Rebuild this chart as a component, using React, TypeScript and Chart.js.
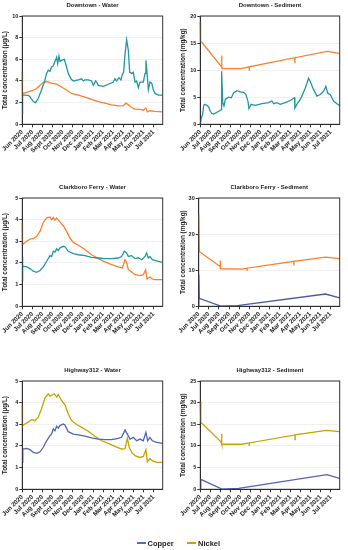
import React, { useEffect, useRef } from 'react';
import { Chart, registerables } from 'chart.js';
Chart.register(...registerables);

const FONT = '"Liberation Sans", Arial, sans-serif';

const MONTH_LABELS = ['Jun 2020', 'Jul 2020', 'Aug 2020', 'Sept 2020', 'Oct 2020', 'Nov 2020', 'Dec 2020', 'Jan 2021', 'Feb 2021', 'Mar 2021', 'Apr 2021', 'May 2021', 'Jun 2021', 'Jul 2021'];
const X_MAX = 13.9;

// Downtown - Water
const DTW_CU_X = [0, 0.03, 0.26, 0.59, 0.76, 0.86, 1.09, 1.32, 1.58, 1.91, 2.18, 2.41, 2.57, 2.74, 2.90, 3.07, 3.23, 3.40, 3.50, 3.63, 3.73, 3.89, 4.16, 4.32, 4.55, 4.82, 5.05, 5.54, 5.87, 6.04, 6.20, 6.53, 6.86, 7.03, 7.26, 7.36, 7.52, 8.02, 8.51, 9.01, 9.17, 9.34, 9.57, 9.77, 9.90, 10.03, 10.17, 10.33, 10.50, 10.63, 10.83, 10.99, 11.16, 11.32, 11.49, 11.65, 11.98, 12.15, 12.24, 12.38, 12.48, 12.64, 12.81, 12.97, 13.14, 13.47, 13.89];
const DTW_CU_Y = [1.0, 2.7, 2.7, 2.67, 2.55, 2.4, 2.1, 2.0, 2.4, 3.2, 3.9, 4.7, 5.0, 4.9, 5.3, 5.4, 5.8, 6.2, 5.6, 6.3, 5.8, 5.9, 6.0, 5.5, 4.7, 4.2, 4.0, 4.1, 4.2, 4.0, 4.1, 4.1, 4.0, 3.6, 4.0, 3.9, 3.6, 3.5, 3.7, 3.9, 4.2, 4.0, 4.3, 4.1, 4.6, 4.8, 6.5, 7.8, 6.8, 4.8, 4.7, 4.8, 3.9, 4.0, 3.4, 3.9, 3.9, 4.7, 5.9, 4.4, 3.2, 3.9, 3.8, 3.2, 2.85, 2.7, 2.7];
const DTW_NI_X = [0, 0.02, 0.1, 0.59, 1.09, 1.42, 1.75, 2.08, 2.41, 2.90, 3.40, 3.89, 4.39, 4.88, 5.54, 6.20, 6.86, 7.52, 8.18, 8.84, 9.50, 10.0, 10.26, 10.50, 10.83, 11.16, 11.65, 11.98, 12.24, 12.38, 12.64, 13.14, 13.89];
const DTW_NI_Y = [4.9, 2.8, 2.85, 3.0, 3.15, 3.3, 3.6, 3.85, 3.95, 3.8, 3.7, 3.45, 3.15, 2.85, 2.7, 2.5, 2.3, 2.1, 1.95, 1.8, 1.7, 1.72, 1.95, 1.8, 1.55, 1.4, 1.38, 1.3, 1.5, 1.15, 1.25, 1.2, 1.15];

// Downtown - Sediment
const DTS_CU_X = [0, 0.1, 0.23, 0.33, 0.43, 0.66, 0.83, 1.0, 1.16, 1.33, 1.56, 1.83, 2.09, 2.13, 2.23, 2.36, 2.49, 2.82, 3.09, 3.32, 3.65, 3.99, 4.32, 4.55, 4.75, 4.85, 5.08, 5.48, 6.15, 6.81, 7.14, 7.31, 7.64, 7.97, 8.47, 8.97, 9.40, 9.43, 9.73, 9.87, 10.13, 10.47, 10.80, 10.96, 11.30, 11.63, 11.96, 12.29, 12.52, 12.72, 12.96, 13.29, 13.62, 13.89];
const DTS_CU_Y = [0, 1.2, 1.8, 3.4, 3.7, 3.5, 3.2, 2.4, 2.0, 1.9, 2.1, 2.4, 2.7, 9.8, 4.0, 3.4, 4.6, 5.0, 4.9, 5.8, 6.2, 6.0, 5.9, 5.5, 4.3, 2.9, 3.7, 3.5, 3.8, 4.0, 4.3, 3.8, 4.0, 3.7, 4.0, 4.4, 4.9, 3.0, 4.0, 4.3, 5.2, 6.7, 8.5, 7.9, 6.4, 5.2, 5.5, 6.1, 7.0, 5.7, 5.5, 4.3, 3.8, 3.5];
const DTS_NI_X = [0, 0.03, 0.17, 2.12, 2.13, 2.15, 2.26, 4.05, 4.86, 4.87, 4.89, 9.42, 9.43, 9.45, 12.62, 13.89];
const DTS_NI_Y = [19.0, 15.3, 15.1, 10.6, 12.7, 10.5, 10.3, 10.3, 10.6, 9.9, 10.6, 12.3, 11.3, 12.3, 13.45, 13.1];

// Clarkboro Ferry - Water
const CFW_CU_X = [0, 0.02, 0.05, 0.43, 0.76, 1.09, 1.42, 1.75, 2.08, 2.41, 2.74, 2.9, 3.07, 3.23, 3.40, 3.56, 3.73, 4.06, 4.22, 4.55, 5.05, 5.54, 6.20, 6.86, 7.52, 8.18, 8.84, 9.50, 9.83, 10.10, 10.33, 10.50, 10.83, 11.16, 11.49, 11.82, 12.15, 12.31, 12.48, 12.64, 12.87, 13.30, 13.89];
const CFW_CU_Y = [1.2, 2.3, 1.85, 1.82, 1.74, 1.62, 1.57, 1.65, 1.82, 2.08, 2.34, 2.3, 2.54, 2.5, 2.65, 2.58, 2.7, 2.77, 2.75, 2.54, 2.43, 2.38, 2.34, 2.26, 2.23, 2.2, 2.2, 2.23, 2.3, 2.54, 2.46, 2.3, 2.34, 2.2, 2.24, 2.15, 2.3, 2.46, 2.23, 2.3, 2.15, 2.1, 2.03];
const CFW_NI_X = [0, 0.02, 0.26, 0.76, 1.09, 1.42, 1.75, 2.08, 2.41, 2.74, 2.90, 3.07, 3.23, 3.40, 3.73, 4.06, 4.39, 4.72, 5.05, 5.54, 6.20, 6.86, 7.52, 8.18, 8.84, 9.50, 9.90, 10.17, 10.33, 10.50, 10.83, 11.16, 11.65, 11.98, 12.21, 12.34, 12.64, 12.87, 13.14, 13.89];
const CFW_NI_Y = [3.85, 2.85, 2.95, 3.1, 3.12, 3.23, 3.46, 3.88, 4.08, 4.12, 4.0, 4.1, 3.98, 4.08, 3.9, 3.72, 3.46, 3.15, 2.95, 2.82, 2.62, 2.38, 2.2, 2.05, 1.92, 1.82, 1.77, 2.15, 2.0, 1.69, 1.58, 1.46, 1.42, 1.46, 1.69, 1.26, 1.35, 1.26, 1.23, 1.23];

// Clarkboro Ferry - Sediment
const CFS_CU_X = [0, 0.01, 0.05, 2.17, 3.8, 12.5, 13.89];
const CFS_CU_Y = [0, 8.8, 2.2, 0.05, 0.2, 3.4, 2.3];
const CFS_NI_X = [0, 0.05, 2.12, 2.13, 2.14, 4.28, 4.76, 4.77, 4.78, 9.37, 9.38, 9.39, 12.5, 13.89];
const CFS_NI_Y = [25.4, 15.2, 11.0, 12.7, 10.4, 10.3, 10.55, 10.0, 10.55, 12.45, 11.3, 12.45, 13.6, 13.2];

// Highway312 - Water
const HWW_CU_X = [0, 0.05, 0.43, 0.76, 1.09, 1.42, 1.75, 2.08, 2.41, 2.74, 2.90, 3.07, 3.23, 3.40, 3.56, 3.73, 4.06, 4.22, 4.55, 5.05, 5.54, 6.20, 6.86, 7.52, 8.18, 8.84, 9.50, 9.83, 10.17, 10.40, 10.66, 10.99, 11.32, 11.65, 11.98, 12.24, 12.41, 12.64, 12.87, 13.30, 13.89];
const HWW_CU_Y = [1.25, 1.86, 1.89, 1.83, 1.7, 1.66, 1.73, 1.94, 2.24, 2.48, 2.55, 2.79, 2.7, 2.91, 2.82, 2.94, 3.02, 2.97, 2.66, 2.55, 2.51, 2.45, 2.37, 2.32, 2.29, 2.29, 2.35, 2.4, 2.74, 2.55, 2.32, 2.4, 2.24, 2.32, 2.24, 2.63, 2.24, 2.4, 2.24, 2.17, 2.12];
const HWW_NI_X = [0, 0.02, 0.1, 0.59, 0.92, 1.25, 1.58, 1.91, 2.24, 2.57, 2.74, 2.90, 3.17, 3.40, 3.56, 3.89, 4.22, 4.55, 4.88, 5.38, 5.87, 6.53, 7.19, 7.85, 8.51, 9.17, 9.83, 10.17, 10.40, 10.59, 10.83, 11.16, 11.65, 11.98, 12.24, 12.38, 12.64, 12.87, 13.30, 13.89];
const HWW_NI_Y = [3.87, 2.9, 2.97, 3.1, 3.22, 3.17, 3.33, 3.72, 4.21, 4.41, 4.3, 4.33, 4.41, 4.26, 4.38, 4.1, 3.9, 3.48, 3.17, 2.99, 2.86, 2.68, 2.45, 2.24, 2.12, 1.98, 1.86, 1.88, 2.35, 1.93, 1.7, 1.55, 1.47, 1.52, 1.83, 1.27, 1.42, 1.32, 1.24, 1.24];

// Highway312 - Sediment
const HWS_CU_X = [0, 0.05, 2.16, 3.82, 12.62, 13.89];
const HWS_CU_Y = [0, 2.3, 0.05, 0.2, 3.4, 2.5];
const HWS_NI_X = [0, 0.05, 2.09, 2.13, 2.15, 4.1, 4.87, 4.88, 4.89, 9.44, 9.45, 9.46, 12.55, 13.89];
const HWS_NI_Y = [20.4, 15.5, 10.9, 12.8, 10.4, 10.4, 10.7, 10.0, 10.7, 12.55, 11.5, 12.55, 13.6, 13.3];

const TEAL = '#2097a2';
const ORANGE = '#fd7f2c';
const SLATE = '#4a5aa5';
const BLUE = '#5064b8';
const GOLD = '#c8a200';

const WATER_TITLE = 'Total concentration (µg/L)';
const SED_TITLE = 'Total concentration (mg/kg)';

type Series = { x: number[]; y: number[]; color: string };
type PanelCfg = {
  title: string; yTitle: string; yMax: number; yStep: number; series: Series[];
  left: number; top: number; yW: number; padRight: number;
};

const CW = 170;
const CH = 172;
const PAD_TOP = 16;
const PLOT_H = 108.3;

const PANELS: PanelCfg[] = [
  { title: 'Downtown - Water', yTitle: WATER_TITLE, yMax: 10, yStep: 2, left: 0, top: 0, yW: 22.3, padRight: 7.3,
    series: [{ x: DTW_CU_X, y: DTW_CU_Y, color: TEAL }, { x: DTW_NI_X, y: DTW_NI_Y, color: ORANGE }] },
  { title: 'Downtown - Sediment', yTitle: SED_TITLE, yMax: 20, yStep: 5, left: 178, top: 0, yW: 22.3, padRight: 8.3,
    series: [{ x: DTS_CU_X, y: DTS_CU_Y, color: TEAL }, { x: DTS_NI_X, y: DTS_NI_Y, color: ORANGE }] },
  { title: 'Clarkboro Ferry - Water', yTitle: WATER_TITLE, yMax: 5, yStep: 1, left: 0, top: 182.3, yW: 22.3, padRight: 7.3,
    series: [{ x: CFW_CU_X, y: CFW_CU_Y, color: TEAL }, { x: CFW_NI_X, y: CFW_NI_Y, color: ORANGE }] },
  { title: 'Clarkboro Ferry - Sediment', yTitle: SED_TITLE, yMax: 30, yStep: 10, left: 178, top: 182.3, yW: 20.7, padRight: 8.3,
    series: [{ x: CFS_CU_X, y: CFS_CU_Y, color: SLATE }, { x: CFS_NI_X, y: CFS_NI_Y, color: ORANGE }] },
  { title: 'Highway312 - Water', yTitle: WATER_TITLE, yMax: 5, yStep: 1, left: 0, top: 364.5, yW: 22.3, padRight: 7.3,
    series: [{ x: HWW_CU_X, y: HWW_CU_Y, color: BLUE }, { x: HWW_NI_X, y: HWW_NI_Y, color: GOLD }] },
  { title: 'Highway312 - Sediment', yTitle: SED_TITLE, yMax: 25, yStep: 5, left: 178, top: 364.5, yW: 22.3, padRight: 8.3,
    series: [{ x: HWS_CU_X, y: HWS_CU_Y, color: BLUE }, { x: HWS_NI_X, y: HWS_NI_Y, color: GOLD }] },
];

const frameTitlePlugin = (title: string) => ({
  id: 'frameTitle',
  afterDraw(chart: any) {
    const { ctx, chartArea: a } = chart;
    ctx.save();
    ctx.strokeStyle = '#333';
    ctx.lineWidth = 1;
    ctx.strokeRect(a.left, a.top, a.right - a.left, a.bottom - a.top);
    ctx.fillStyle = '#222';
    ctx.font = `bold 6px ${FONT}`;
    ctx.textAlign = 'center';
    ctx.textBaseline = 'middle';
    ctx.fillText(title, (a.left + a.right) / 2, a.top - 11);
    ctx.restore();
  },
});

function Panel({ cfg }: { cfg: PanelCfg }) {
  const ref = useRef<HTMLCanvasElement>(null);
  useEffect(() => {
    const xH = CH - PAD_TOP - PLOT_H;
    const chart = new Chart(ref.current as HTMLCanvasElement, {
      type: 'line',
      data: {
        datasets: cfg.series.map((s) => ({
          data: s.x.map((x, i) => ({ x, y: s.y[i] })),
          borderColor: s.color,
          borderWidth: 1.3,
          pointRadius: 0,
          tension: 0,
          fill: false,
          clip: 2,
        })),
      },
      options: {
        animation: false,
        responsive: false,
        devicePixelRatio: 1,
        layout: { padding: { top: PAD_TOP, right: cfg.padRight, left: 0, bottom: 0 } },
        plugins: { legend: { display: false }, tooltip: { enabled: false }, title: { display: false } },
        scales: {
          x: {
            type: 'linear',
            min: 0,
            max: X_MAX,
            afterBuildTicks: (s: any) => { s.ticks = MONTH_LABELS.map((_, i) => ({ value: i })); },
            afterFit: (s: any) => { s.height = xH; },
            ticks: {
              autoSkip: false,
              minRotation: 45,
              maxRotation: 45,
              padding: 1,
              color: '#222',
              font: { family: FONT, size: 6.3, weight: 'bold' },
              callback: (v: any) => MONTH_LABELS[v] ?? '',
            },
            grid: { drawOnChartArea: false, tickLength: 3, tickColor: '#333' },
            border: { color: '#222', width: 1 },
          },
          y: {
            min: 0,
            max: cfg.yMax,
            afterFit: (s: any) => { s.width = cfg.yW; },
            ticks: { stepSize: cfg.yStep, padding: 1, color: '#222', font: { family: FONT, size: 5.5, weight: 'bold' } },
            grid: { color: 'rgba(0,0,0,0.06)', tickLength: 3, tickColor: '#333' },
            border: { color: '#222', width: 1 },
            title: { display: true, text: cfg.yTitle, color: '#222', font: { family: FONT, size: 6.4, weight: 'bold' }, padding: { top: 1, bottom: 1 } },
          },
        },
      } as any,
      plugins: [frameTitlePlugin(cfg.title)],
    });
    return () => chart.destroy();
  }, [cfg]);
  return (
    <canvas ref={ref} width={CW} height={CH}
      style={{ position: 'absolute', left: cfg.left, top: cfg.top, width: CW, height: CH }} />
  );
}

function LegendItem({ left, color, label }: { left: number; color: string; label: string }) {
  return (
    <div style={{ position: 'absolute', left, top: 536, height: 14, display: 'flex', alignItems: 'center', fontFamily: FONT, fontWeight: 'bold', fontSize: 7.5, color: '#222' }}>
      <span style={{ display: 'inline-block', width: 9, height: 1.3, background: color, marginRight: 2 }} />
      <span>{label}</span>
    </div>
  );
}

export default function App() {
  return (
    <div style={{ position: 'absolute', left: 0, top: 0, width: 348, height: 550, background: '#fff', overflow: 'hidden' }}>
      {PANELS.map((p, i) => <Panel key={i} cfg={p} />)}
      <LegendItem left={136.5} color="#5070c8" label="Copper" />
      <LegendItem left={187} color={GOLD} label="Nickel" />
    </div>
  );
}
